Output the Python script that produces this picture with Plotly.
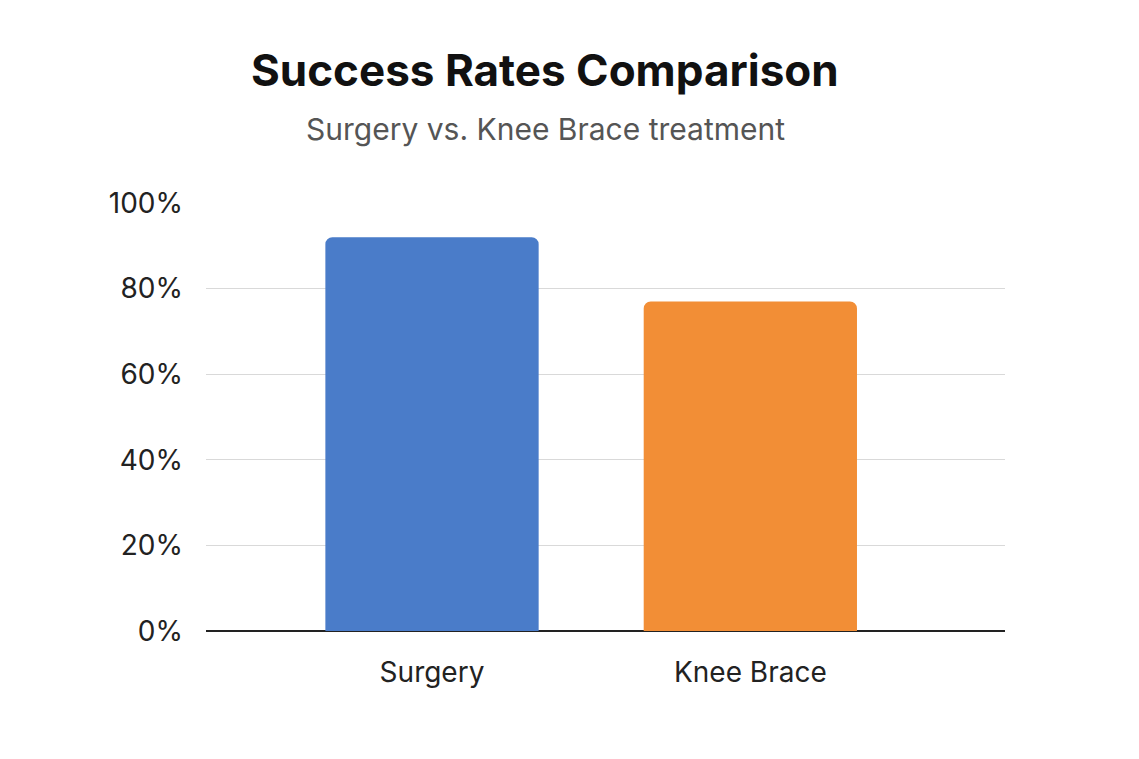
import plotly.graph_objects as go

categories = ["Surgery", "Knee Brace"]
success_rates = [92, 77]
bar_colors = ["#4a7cc9", "#f28e36"]
tick_values = [0, 20, 40, 60, 80, 100]
tick_labels = ["0%", "20%", "40%", "60%", "80%", "100%"]

fig = go.Figure()
fig.add_trace(go.Bar(x=[0, 1], y=success_rates, width=0.67,
                     marker=dict(color=bar_colors, line=dict(width=0)),
                     hoverinfo="skip"))

fig.update_layout(
    width=1139, height=759,
    margin=dict(l=198, r=142, t=195, b=136),
    paper_bgcolor="white", plot_bgcolor="white",
    font=dict(family="Inter, Roboto, sans-serif", color="#222"),
    showlegend=False,
    barcornerradius=7,
    xaxis=dict(range=[-0.71, 1.80], tickvals=[0, 1], ticktext=categories,
               tickfont=dict(size=28), showgrid=False, zeroline=False,
               showline=False, ticks="", ticklabelstandoff=22),
    yaxis=dict(range=[0, 100], tickvals=tick_values, ticktext=tick_labels,
               tickfont=dict(size=28), gridcolor="#d9d9d9", gridwidth=1,
               zeroline=True, zerolinecolor="#222", zerolinewidth=1.5,
               ticks="", ticklabelstandoff=22),
    annotations=[
        dict(text="<b>Success Rates Comparison</b>", x=537, y=62,
             xref="paper", yref="paper", showarrow=False,
             font=dict(size=44, color="#111")),
        dict(text="Surgery vs. Knee Brace treatment", x=537, y=121,
             xref="paper", yref="paper", showarrow=False,
             font=dict(size=30, color="#555")),
    ],
)
# convert pixel positions for title annotations into paper coordinates
pw = 1139 - 198 - 142
ph = 759 - 195 - 136
for a in fig.layout.annotations:
    a.x = (a.x - 198) / pw
    a.y = (759 - 136 - a.y) / ph
    a.yanchor = "middle"

fig.write_html("out.html")
